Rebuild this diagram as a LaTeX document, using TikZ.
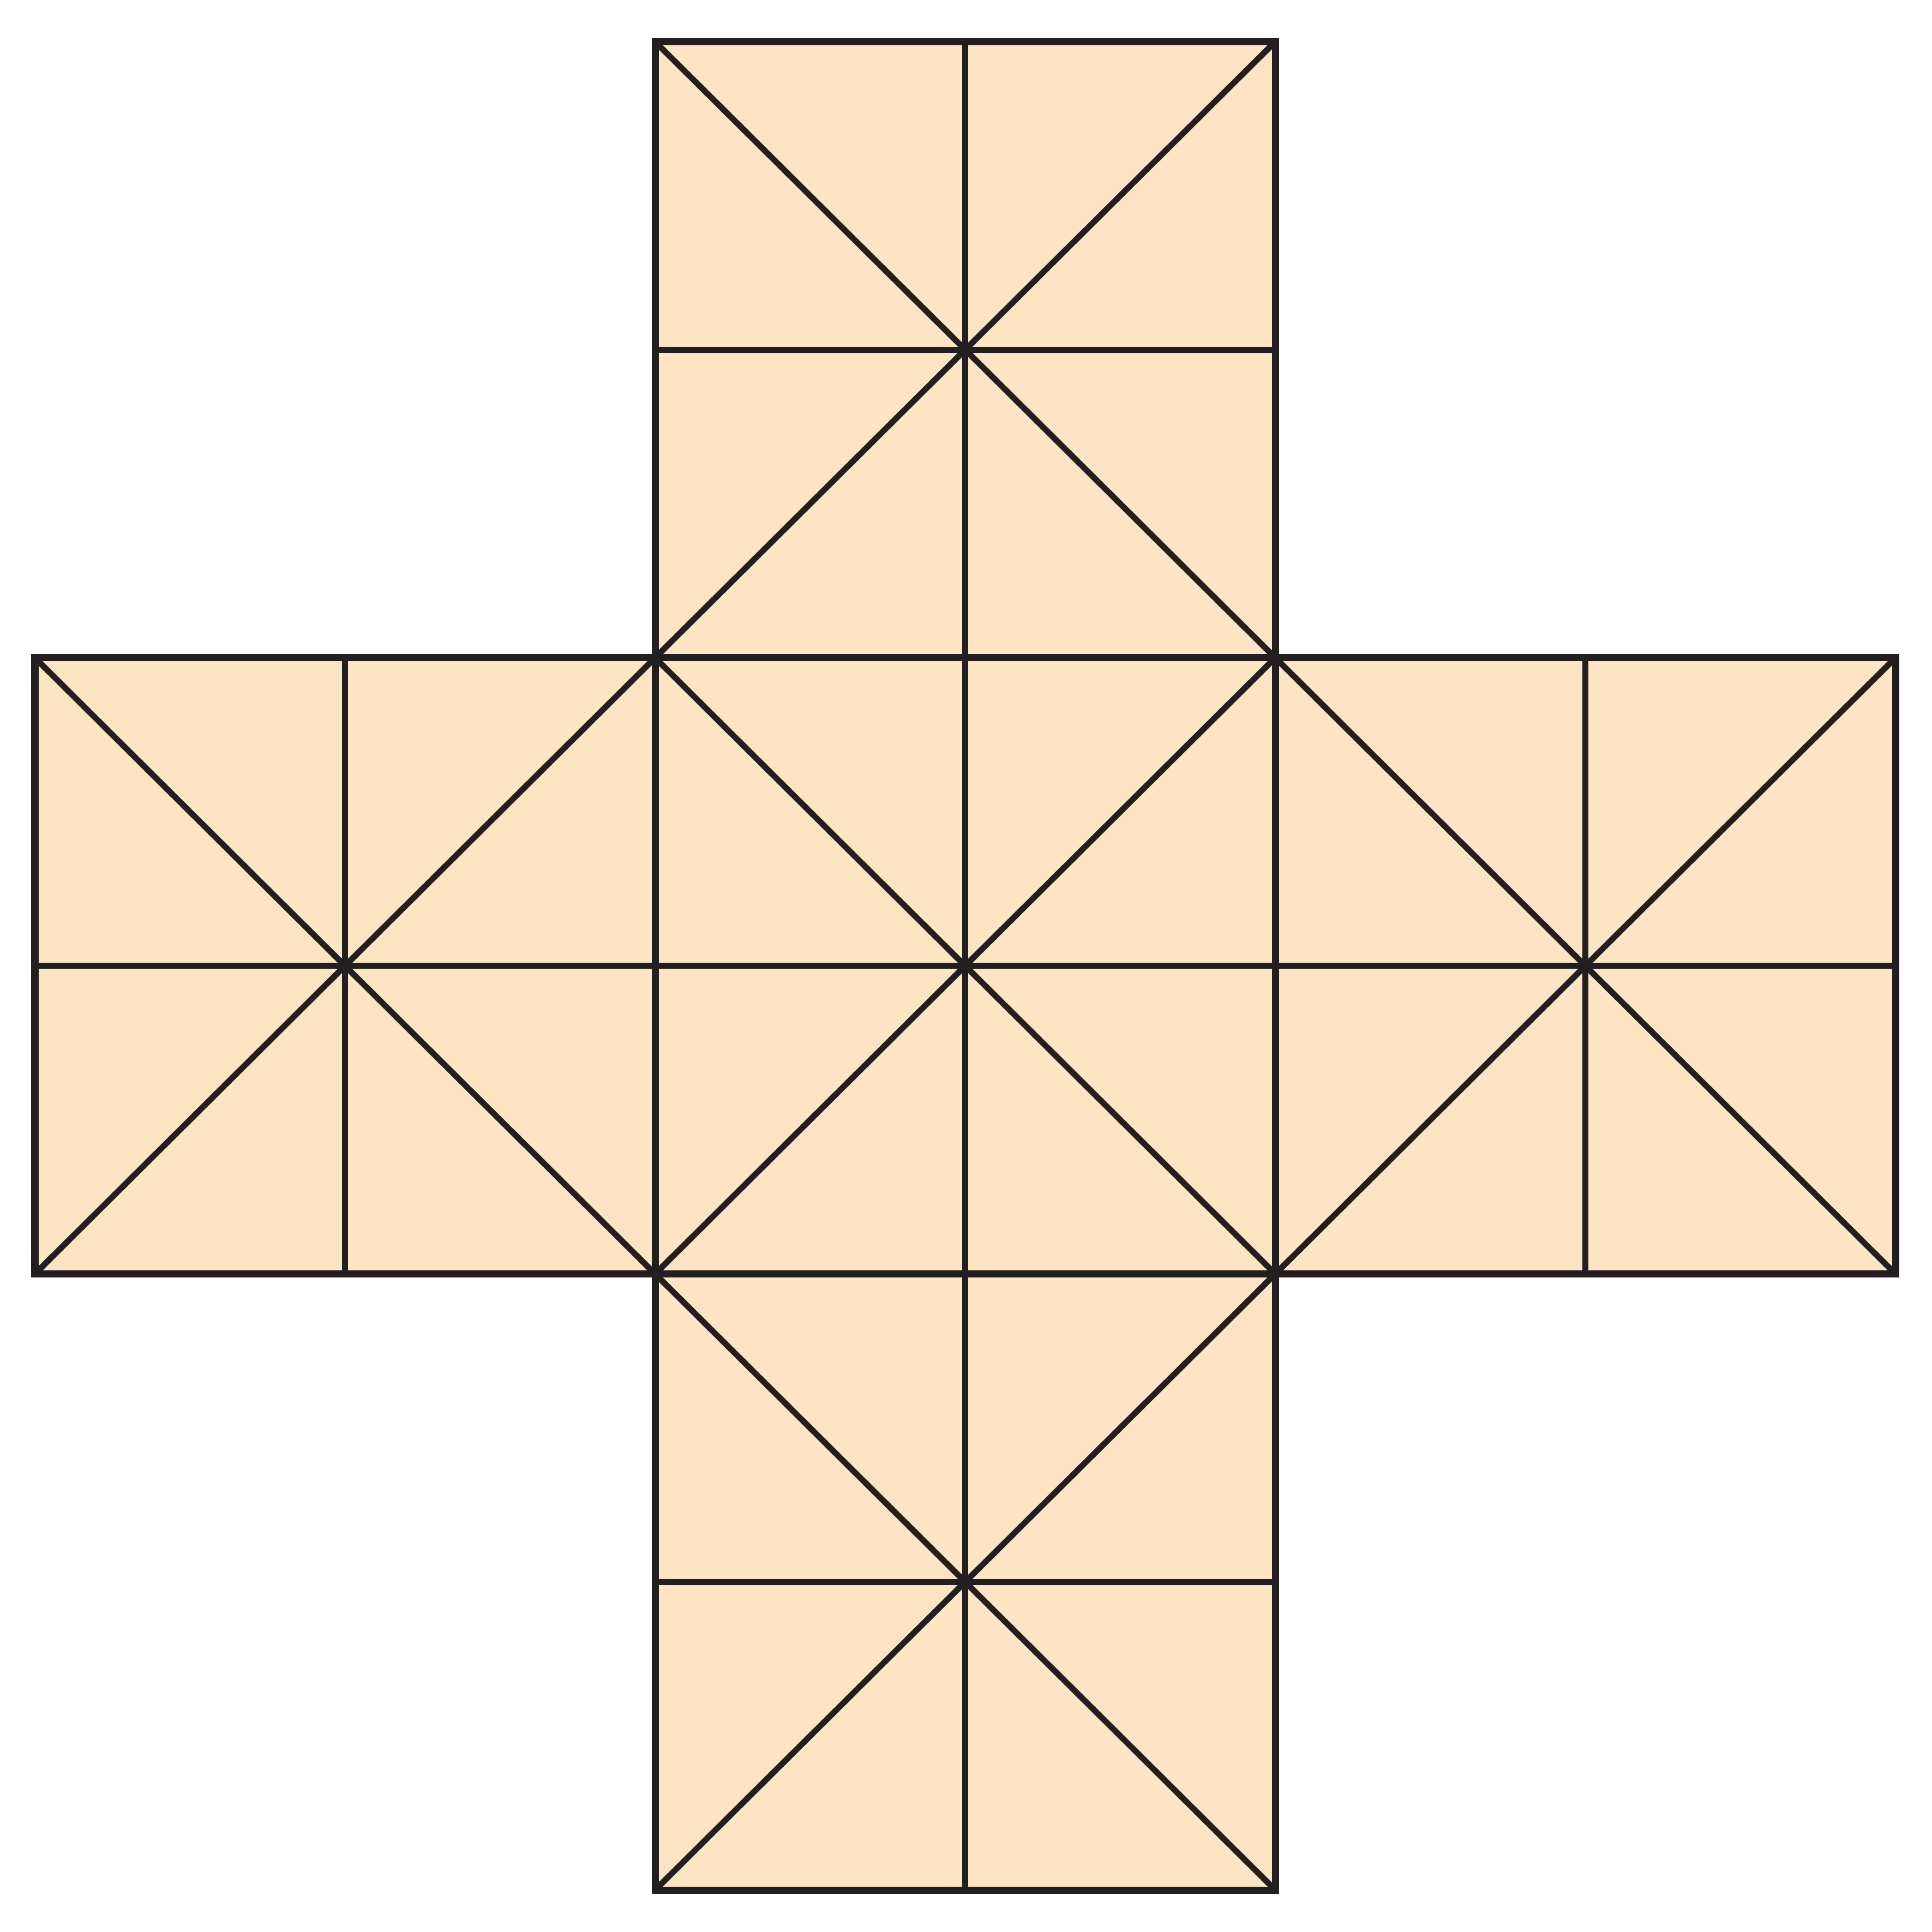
\documentclass[tikz,border=0pt]{standalone}
\usepackage{xcolor}
\usetikzlibrary{calc}
\definecolor{netfill}{RGB}{253,228,194}
\definecolor{netline}{RGB}{35,31,32}
\tikzset{
  face/.style={draw=netline, line width=3.7pt, line join=miter},
  crease/.style={draw=netline, line width=3.1pt}
}
\begin{document}
\begin{tikzpicture}[x=11.37cm, y=11.295cm]
    \useasboundingbox (-0.64cm,-0.77cm) rectangle (34.78cm,34.65cm);
    % Fill the five faces of the net
    \foreach \i/\j in {1/2, 0/1, 1/1, 2/1, 1/0} {
        \fill[netfill] (\i,\j) rectangle ++(1,1);
    }
    % Creases: diagonals and midlines of every face
    \foreach \i/\j in {1/2, 0/1, 1/1, 2/1, 1/0} {
        \coordinate (SW) at (\i,\j);
        \coordinate (SE) at (\i+1,\j);
        \coordinate (NE) at (\i+1,\j+1);
        \coordinate (NW) at (\i,\j+1);
        \draw[crease] (SW) -- (NE);
        \draw[crease] (SE) -- (NW);
        \draw[crease] ($(SW)!0.5!(SE)$) -- ($(NW)!0.5!(NE)$);
        \draw[crease] ($(SW)!0.5!(NW)$) -- ($(SE)!0.5!(NE)$);
    }
    % Edges of the faces
    \foreach \i/\j in {1/2, 0/1, 1/1, 2/1, 1/0} {
        \draw[face] (\i,\j) rectangle ++(1,1);
    }
\end{tikzpicture}
\end{document}
